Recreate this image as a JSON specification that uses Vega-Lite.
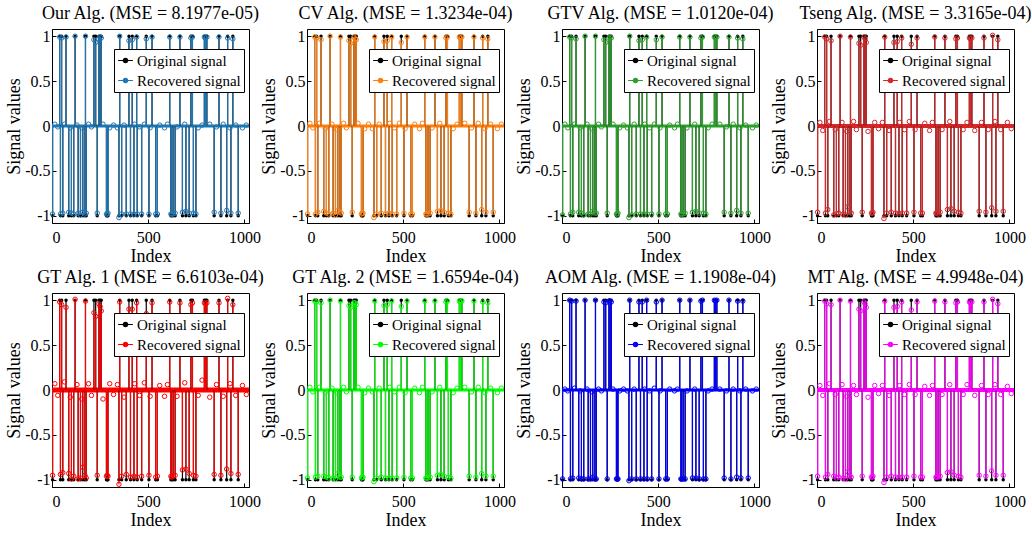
{
"$schema": "https://vega.github.io/schema/vega-lite/v6.json",
"background": "white",
"padding": {"left": 5, "top": 4, "right": 2, "bottom": 2},
"bounds": "flush",
"datasets": {
"sig": [
{"i":3,"o":-1,"r1":-0.98,"r2":-0.98,"r3":-0.99,"r4":-0.96,"r5":-0.95,"r6":-0.98,"r7":-0.99,"r8":-0.96},
{"i":40,"o":1,"r1":0.99,"r2":0.99,"r3":0.99,"r4":0.99,"r5":0.98,"r6":0.99,"r7":1,"r8":0.99},
{"i":44,"o":-1,"r1":-0.98,"r2":-0.98,"r3":-0.98,"r4":-0.97,"r5":-0.94,"r6":-0.97,"r7":-0.99,"r8":-0.97},
{"i":50,"o":1,"r1":0.98,"r2":0.98,"r3":0.98,"r4":0.97,"r5":0.95,"r6":0.98,"r7":0.99,"r8":0.96},
{"i":56,"o":-1,"r1":-0.97,"r2":-0.96,"r3":-0.96,"r4":-0.93,"r5":-0.92,"r6":-0.96,"r7":-0.98,"r8":-0.94},
{"i":73,"o":1,"r1":0.99,"r2":0.96,"r3":0.97,"r4":0.95,"r5":0.92,"r6":0.97,"r7":0.99,"r8":0.95},
{"i":87,"o":-1,"r1":-0.96,"r2":-0.95,"r3":-0.96,"r4":-0.99,"r5":-0.93,"r6":-0.96,"r7":-0.98,"r8":-0.96},
{"i":101,"o":-1,"r1":-0.97,"r2":-0.97,"r3":-0.97,"r4":-0.98,"r5":-0.99,"r6":-0.97,"r7":-0.99,"r8":-0.98},
{"i":113,"o":-1,"r1":-0.98,"r2":-0.98,"r3":-0.99,"r4":-0.97,"r5":-0.96,"r6":-0.98,"r7":-0.99,"r8":-0.97},
{"i":120,"o":1,"r1":1,"r2":1,"r3":1,"r4":1,"r5":1.01,"r6":1,"r7":1,"r8":1},
{"i":136,"o":-1,"r1":-0.97,"r2":-0.97,"r3":-0.98,"r4":-0.98,"r5":-0.99,"r6":-0.98,"r7":-0.99,"r8":-0.98},
{"i":148,"o":-1,"r1":-0.99,"r2":-0.99,"r3":-0.98,"r4":-0.99,"r5":-0.98,"r6":-0.99,"r7":-0.99,"r8":-0.99},
{"i":160,"o":-1,"r1":-0.96,"r2":-0.94,"r3":-0.95,"r4":-0.9,"r5":-0.86,"r6":-0.93,"r7":-0.97,"r8":-0.91},
{"i":171,"o":-1,"r1":-0.98,"r2":-0.96,"r3":-0.97,"r4":-0.96,"r5":-0.95,"r6":-0.97,"r7":-0.99,"r8":-0.96},
{"i":174,"o":1,"r1":1,"r2":0.99,"r3":1,"r4":0.99,"r5":0.99,"r6":0.99,"r7":1,"r8":0.99},
{"i":178,"o":-1,"r1":-0.97,"r2":-0.97,"r3":-0.97,"r4":-0.97,"r5":-0.98,"r6":-0.97,"r7":-0.99,"r8":-0.97},
{"i":218,"o":1,"r1":0.96,"r2":0.95,"r3":0.96,"r4":0.92,"r5":0.86,"r6":0.94,"r7":0.98,"r8":0.9},
{"i":227,"o":1,"r1":0.93,"r2":0.92,"r3":0.93,"r4":0.9,"r5":0.82,"r6":0.92,"r7":0.97,"r8":0.88},
{"i":235,"o":-1,"r1":-0.97,"r2":-0.96,"r3":-0.97,"r4":-0.96,"r5":-0.95,"r6":-0.97,"r7":-0.99,"r8":-0.96},
{"i":244,"o":1,"r1":0.97,"r2":0.99,"r3":0.98,"r4":0.99,"r5":0.96,"r6":0.97,"r7":0.99,"r8":0.98},
{"i":250,"o":1,"r1":0.99,"r2":0.97,"r3":0.99,"r4":0.97,"r5":0.93,"r6":0.97,"r7":0.99,"r8":0.96},
{"i":256,"o":1,"r1":0.98,"r2":0.96,"r3":0.98,"r4":0.93,"r5":0.88,"r6":0.95,"r7":0.98,"r8":0.92},
{"i":283,"o":-1,"r1":-0.98,"r2":-0.98,"r3":-0.98,"r4":-0.97,"r5":-0.96,"r6":-0.98,"r7":-0.99,"r8":-0.97},
{"i":287,"o":-1,"r1":-0.98,"r2":-0.97,"r3":-0.98,"r4":-0.97,"r5":-0.95,"r6":-0.97,"r7":-0.99,"r8":-0.97},
{"i":291,"o":-1,"r1":-0.97,"r2":-0.97,"r3":-0.97,"r4":-0.96,"r5":-0.96,"r6":-0.97,"r7":-0.99,"r8":-0.96},
{"i":348,"o":-1,"r1":-1.02,"r2":-1.02,"r3":-1.02,"r4":-1.03,"r5":-1.05,"r6":-1.02,"r7":-1.01,"r8":-1.03},
{"i":352,"o":1,"r1":1,"r2":0.99,"r3":1,"r4":0.99,"r5":0.98,"r6":0.99,"r7":1,"r8":0.99},
{"i":362,"o":-1,"r1":-0.98,"r2":-0.98,"r3":-0.99,"r4":-0.97,"r5":-0.96,"r6":-0.98,"r7":-0.99,"r8":-0.97},
{"i":386,"o":-1,"r1":-0.98,"r2":-0.97,"r3":-0.98,"r4":-0.96,"r5":-0.94,"r6":-0.97,"r7":-0.99,"r8":-0.96},
{"i":400,"o":1,"r1":0.95,"r2":0.94,"r3":0.95,"r4":0.93,"r5":0.9,"r6":0.94,"r7":0.98,"r8":0.92},
{"i":408,"o":-1,"r1":-0.98,"r2":-0.98,"r3":-0.98,"r4":-0.97,"r5":-0.97,"r6":-0.98,"r7":-0.99,"r8":-0.97},
{"i":417,"o":1,"r1":0.96,"r2":0.95,"r3":0.96,"r4":0.94,"r5":0.9,"r6":0.95,"r7":0.98,"r8":0.93},
{"i":426,"o":-1,"r1":-0.98,"r2":-0.97,"r3":-0.98,"r4":-0.97,"r5":-0.96,"r6":-0.98,"r7":-0.99,"r8":-0.97},
{"i":440,"o":1,"r1":0.99,"r2":0.99,"r3":0.99,"r4":0.98,"r5":0.97,"r6":0.99,"r7":1,"r8":0.98},
{"i":443,"o":-1,"r1":-0.98,"r2":-0.98,"r3":-0.98,"r4":-0.97,"r5":-0.97,"r6":-0.98,"r7":-0.99,"r8":-0.97},
{"i":466,"o":-1,"r1":-0.98,"r2":-0.98,"r3":-0.98,"r4":-0.97,"r5":-0.96,"r6":-0.98,"r7":-0.99,"r8":-0.97},
{"i":490,"o":1,"r1":0.97,"r2":0.93,"r3":0.96,"r4":0.91,"r5":0.85,"r6":0.93,"r7":0.98,"r8":0.89},
{"i":504,"o":-1,"r1":-0.98,"r2":-0.97,"r3":-0.98,"r4":-0.96,"r5":-0.95,"r6":-0.97,"r7":-0.99,"r8":-0.96},
{"i":520,"o":1,"r1":0.99,"r2":0.99,"r3":0.99,"r4":0.98,"r5":0.97,"r6":0.99,"r7":1,"r8":0.98},
{"i":539,"o":-1,"r1":-0.98,"r2":-0.98,"r3":-0.98,"r4":-0.97,"r5":-0.97,"r6":-0.98,"r7":-0.99,"r8":-0.97},
{"i":548,"o":-1,"r1":-0.98,"r2":-0.98,"r3":-0.98,"r4":-0.97,"r5":-0.96,"r6":-0.98,"r7":-0.99,"r8":-0.97},
{"i":612,"o":1,"r1":0.99,"r2":0.99,"r3":0.99,"r4":0.99,"r5":0.98,"r6":0.99,"r7":1,"r8":0.99},
{"i":618,"o":-1,"r1":-0.98,"r2":-0.98,"r3":-0.98,"r4":-0.97,"r5":-0.96,"r6":-0.98,"r7":-0.99,"r8":-0.97},
{"i":622,"o":-1,"r1":-0.98,"r2":-0.98,"r3":-0.98,"r4":-0.97,"r5":-0.97,"r6":-0.98,"r7":-0.99,"r8":-0.97},
{"i":630,"o":-1,"r1":-0.98,"r2":-0.98,"r3":-0.98,"r4":-0.98,"r5":-0.96,"r6":-0.98,"r7":-0.99,"r8":-0.97},
{"i":640,"o":-1,"r1":-0.97,"r2":-0.97,"r3":-0.97,"r4":-0.96,"r5":-0.95,"r6":-0.97,"r7":-0.99,"r8":-0.96},
{"i":665,"o":1,"r1":0.99,"r2":0.99,"r3":0.99,"r4":0.98,"r5":0.97,"r6":0.99,"r7":1,"r8":0.98},
{"i":678,"o":-1,"r1":-0.96,"r2":-0.95,"r3":-0.96,"r4":-0.93,"r5":-0.89,"r6":-0.95,"r7":-0.98,"r8":-0.92},
{"i":696,"o":-1,"r1":-0.95,"r2":-0.94,"r3":-0.95,"r4":-0.92,"r5":-0.88,"r6":-0.94,"r7":-0.98,"r8":-0.91},
{"i":713,"o":-1,"r1":-0.97,"r2":-0.96,"r3":-0.97,"r4":-0.95,"r5":-0.93,"r6":-0.96,"r7":-0.99,"r8":-0.95},
{"i":722,"o":1,"r1":0.98,"r2":0.98,"r3":0.98,"r4":0.97,"r5":0.95,"r6":0.98,"r7":0.99,"r8":0.97},
{"i":730,"o":1,"r1":0.99,"r2":0.99,"r3":0.99,"r4":0.98,"r5":0.97,"r6":0.99,"r7":1,"r8":0.98},
{"i":735,"o":-1,"r1":-0.97,"r2":-0.97,"r3":-0.97,"r4":-0.96,"r5":-0.95,"r6":-0.97,"r7":-0.99,"r8":-0.96},
{"i":748,"o":-1,"r1":-0.98,"r2":-0.98,"r3":-0.98,"r4":-0.97,"r5":-0.96,"r6":-0.98,"r7":-0.99,"r8":-0.97},
{"i":792,"o":1,"r1":0.99,"r2":0.99,"r3":0.99,"r4":0.98,"r5":0.97,"r6":0.99,"r7":1,"r8":0.98},
{"i":798,"o":1,"r1":0.98,"r2":0.98,"r3":0.98,"r4":0.97,"r5":0.96,"r6":0.98,"r7":0.99,"r8":0.97},
{"i":805,"o":1,"r1":0.99,"r2":0.99,"r3":0.99,"r4":0.98,"r5":0.97,"r6":0.99,"r7":1,"r8":0.98},
{"i":843,"o":-1,"r1":-0.96,"r2":-0.96,"r3":-0.96,"r4":-0.95,"r5":-0.94,"r6":-0.96,"r7":-0.98,"r8":-0.95},
{"i":868,"o":1,"r1":0.99,"r2":0.99,"r3":0.99,"r4":0.98,"r5":0.97,"r6":0.99,"r7":1,"r8":0.98},
{"i":878,"o":-1,"r1":-0.97,"r2":-0.97,"r3":-0.97,"r4":-0.96,"r5":-0.95,"r6":-0.97,"r7":-0.99,"r8":-0.96},
{"i":908,"o":-1,"r1":-0.94,"r2":-0.93,"r3":-0.94,"r4":-0.91,"r5":-0.88,"r6":-0.93,"r7":-0.97,"r8":-0.9},
{"i":913,"o":1,"r1":0.98,"r2":0.98,"r3":0.98,"r4":1.01,"r5":1.02,"r6":0.98,"r7":0.99,"r8":1.01},
{"i":930,"o":-1,"r1":-0.97,"r2":-0.96,"r3":-0.97,"r4":-0.95,"r5":-0.93,"r6":-0.96,"r7":-0.98,"r8":-0.95},
{"i":940,"o":1,"r1":0.97,"r2":0.97,"r3":0.97,"r4":0.96,"r5":0.95,"r6":0.97,"r7":0.99,"r8":0.96},
{"i":968,"o":-1,"r1":-0.97,"r2":-0.96,"r3":-0.97,"r4":-0.95,"r5":-0.94,"r6":-0.96,"r7":-0.98,"r8":-0.95}
],
"noise": [
{"i":15,"n1":0.02,"n2":0.03,"n3":0.02,"n4":0.04,"n5":0.07,"n6":0.03,"n7":0.01,"n8":0.05},
{"i":30,"n1":-0.01,"n2":-0.02,"n3":-0.02,"n4":-0.05,"n5":-0.06,"n6":-0.02,"n7":-0.01,"n8":-0.06},
{"i":65,"n1":0.02,"n2":0.03,"n3":0.02,"n4":0.05,"n5":0.09,"n6":0.03,"n7":0.02,"n8":0.07},
{"i":95,"n1":-0.02,"n2":-0.03,"n3":-0.02,"n4":-0.04,"n5":-0.08,"n6":-0.03,"n7":-0.01,"n8":-0.05},
{"i":130,"n1":0.01,"n2":0.02,"n3":0.02,"n4":0.04,"n5":0.06,"n6":0.02,"n7":0.01,"n8":0.06},
{"i":155,"n1":-0.02,"n2":-0.04,"n3":-0.03,"n4":-0.06,"n5":-0.1,"n6":-0.03,"n7":-0.02,"n8":-0.07},
{"i":190,"n1":0.02,"n2":0.03,"n3":0.02,"n4":0.05,"n5":0.07,"n6":0.03,"n7":0.01,"n8":0.05},
{"i":205,"n1":-0.01,"n2":-0.02,"n3":-0.01,"n4":-0.04,"n5":-0.06,"n6":-0.02,"n7":-0.01,"n8":-0.05},
{"i":265,"n1":0.02,"n2":0.03,"n3":0.02,"n4":-0.06,"n5":-0.1,"n6":0.03,"n7":0.01,"n8":-0.08},
{"i":300,"n1":-0.02,"n2":-0.03,"n3":-0.02,"n4":0.04,"n5":0.07,"n6":-0.03,"n7":-0.01,"n8":0.05},
{"i":320,"n1":0.01,"n2":0.02,"n3":0.01,"n4":-0.03,"n5":-0.05,"n6":0.02,"n7":0.01,"n8":-0.04},
{"i":340,"n1":-0.02,"n2":-0.03,"n3":-0.02,"n4":0.04,"n5":0.06,"n6":-0.02,"n7":-0.01,"n8":0.05},
{"i":375,"n1":0.01,"n2":0.02,"n3":0.02,"n4":-0.05,"n5":-0.08,"n6":0.02,"n7":0.01,"n8":-0.06},
{"i":430,"n1":0.02,"n2":0.03,"n3":0.02,"n4":0.04,"n5":0.07,"n6":0.03,"n7":0.01,"n8":0.05},
{"i":455,"n1":-0.01,"n2":-0.02,"n3":-0.02,"n4":-0.04,"n5":-0.06,"n6":-0.02,"n7":-0.01,"n8":-0.05},
{"i":480,"n1":0.02,"n2":0.03,"n3":0.02,"n4":0.05,"n5":0.08,"n6":0.03,"n7":0.02,"n8":0.06},
{"i":510,"n1":-0.02,"n2":-0.03,"n3":-0.02,"n4":-0.04,"n5":-0.07,"n6":-0.03,"n7":-0.01,"n8":-0.05},
{"i":560,"n1":0.01,"n2":0.02,"n3":0.01,"n4":0.03,"n5":0.05,"n6":0.02,"n7":0.01,"n8":0.04},
{"i":585,"n1":-0.02,"n2":-0.03,"n3":-0.02,"n4":-0.05,"n5":-0.07,"n6":-0.03,"n7":-0.01,"n8":-0.06},
{"i":600,"n1":0.02,"n2":0.03,"n3":0.02,"n4":0.04,"n5":0.06,"n6":0.03,"n7":0.01,"n8":0.05},
{"i":650,"n1":-0.01,"n2":-0.02,"n3":-0.02,"n4":-0.04,"n5":-0.07,"n6":-0.02,"n7":-0.01,"n8":-0.05},
{"i":690,"n1":0.02,"n2":0.03,"n3":0.02,"n4":0.05,"n5":0.08,"n6":0.03,"n7":0.01,"n8":0.06},
{"i":760,"n1":-0.02,"n2":-0.03,"n3":-0.02,"n4":-0.04,"n5":-0.06,"n6":-0.03,"n7":-0.01,"n8":-0.05},
{"i":780,"n1":0.01,"n2":0.02,"n3":0.02,"n4":0.04,"n5":0.11,"n6":0.02,"n7":0.01,"n8":0.06},
{"i":820,"n1":0.02,"n2":0.03,"n3":0.02,"n4":-0.05,"n5":-0.08,"n6":0.03,"n7":0.01,"n8":-0.06},
{"i":855,"n1":-0.01,"n2":-0.02,"n3":-0.01,"n4":0.04,"n5":0.06,"n6":-0.02,"n7":-0.01,"n8":0.05},
{"i":890,"n1":0.02,"n2":0.03,"n3":0.02,"n4":-0.04,"n5":-0.07,"n6":0.03,"n7":0.01,"n8":-0.05},
{"i":925,"n1":-0.02,"n2":-0.03,"n3":-0.02,"n4":0.05,"n5":0.07,"n6":-0.03,"n7":-0.01,"n8":0.06},
{"i":955,"n1":0.01,"n2":0.02,"n3":0.01,"n4":-0.04,"n5":-0.06,"n6":0.02,"n7":0.01,"n8":-0.05},
{"i":990,"n1":-0.02,"n2":-0.03,"n3":-0.02,"n4":0.04,"n5":0.05,"n6":-0.03,"n7":-0.01,"n8":0.04},
{"i":1010,"n1":0.01,"n2":0.02,"n3":0.01,"n4":-0.03,"n5":-0.05,"n6":0.02,"n7":0.01,"n8":-0.04}
]
},
"columns": 4,
"spacing": {"row": 70, "column": 58},
"resolve": {"scale": {"color": "independent", "x": "independent", "y": "independent"}, "legend": {"color": "independent"}},
"concat": [
{"title": "Our Alg. (MSE = 8.1977e-05)", "width": 197, "height": 194, "layer": [
 {"data": {"values": [{}]}, "mark": {"type": "rule", "color": "#1f77b4", "strokeWidth": 3}, "encoding": {"y": {"datum": 0, "type": "quantitative", "scale": {"domain": [-1.08, 1.08], "nice": false, "zero": false}, "title": "Signal values", "axis": {"values": [-1, -0.5, 0, 0.5, 1], "labelExpr": "datum.value < 0 ? '-' + abs(datum.value) : '' + datum.value"}}}},
 {"data": {"name": "sig"}, "mark": {"type": "rule", "color": "black", "strokeWidth": 1.2}, "encoding": {"x": {"field": "i", "type": "quantitative", "scale": {"domain": [0, 1024], "nice": false, "zero": false}, "title": "Index", "axis": {"values": [0, 500, 1000], "format": "d"}}, "y": {"field": "o", "type": "quantitative", "title": "Signal values"}, "y2": {"datum": 0}}},
 {"data": {"name": "sig"}, "mark": {"type": "point", "filled": true, "size": 12, "opacity": 1}, "encoding": {"x": {"field": "i", "type": "quantitative", "title": "Index"}, "y": {"field": "o", "type": "quantitative", "title": "Signal values"}, "color": {"datum": "Original signal", "scale": {"domain": ["Original signal", "Recovered signal"], "range": ["black", "#1f77b4"]}, "title": null}}},
 {"data": {"name": "sig"}, "mark": {"type": "rule", "color": "#1f77b4", "strokeWidth": 1.2}, "encoding": {"x": {"field": "i", "type": "quantitative", "title": "Index"}, "y": {"field": "r1", "type": "quantitative", "title": "Signal values"}, "y2": {"datum": 0}}},
 {"data": {"name": "noise"}, "mark": {"type": "point", "filled": false, "size": 20, "strokeWidth": 1, "color": "#1f77b4", "opacity": 1}, "encoding": {"x": {"field": "i", "type": "quantitative", "title": "Index"}, "y": {"field": "n1", "type": "quantitative", "title": "Signal values"}}},
 {"data": {"name": "sig"}, "mark": {"type": "point", "filled": false, "size": 20, "strokeWidth": 1, "opacity": 1}, "encoding": {"x": {"field": "i", "type": "quantitative", "title": "Index"}, "y": {"field": "r1", "type": "quantitative", "title": "Signal values"}, "color": {"datum": "Recovered signal", "scale": {"domain": ["Original signal", "Recovered signal"], "range": ["black", "#1f77b4"]}, "title": null}}}
]},
{"title": "CV Alg. (MSE = 1.3234e-04)", "width": 197, "height": 194, "layer": [
 {"data": {"values": [{}]}, "mark": {"type": "rule", "color": "#ff7f0e", "strokeWidth": 3}, "encoding": {"y": {"datum": 0, "type": "quantitative", "scale": {"domain": [-1.08, 1.08], "nice": false, "zero": false}, "title": "Signal values", "axis": {"values": [-1, -0.5, 0, 0.5, 1], "labelExpr": "datum.value < 0 ? '-' + abs(datum.value) : '' + datum.value"}}}},
 {"data": {"name": "sig"}, "mark": {"type": "rule", "color": "black", "strokeWidth": 1.2}, "encoding": {"x": {"field": "i", "type": "quantitative", "scale": {"domain": [0, 1024], "nice": false, "zero": false}, "title": "Index", "axis": {"values": [0, 500, 1000], "format": "d"}}, "y": {"field": "o", "type": "quantitative", "title": "Signal values"}, "y2": {"datum": 0}}},
 {"data": {"name": "sig"}, "mark": {"type": "point", "filled": true, "size": 12, "opacity": 1}, "encoding": {"x": {"field": "i", "type": "quantitative", "title": "Index"}, "y": {"field": "o", "type": "quantitative", "title": "Signal values"}, "color": {"datum": "Original signal", "scale": {"domain": ["Original signal", "Recovered signal"], "range": ["black", "#ff7f0e"]}, "title": null}}},
 {"data": {"name": "sig"}, "mark": {"type": "rule", "color": "#ff7f0e", "strokeWidth": 1.2}, "encoding": {"x": {"field": "i", "type": "quantitative", "title": "Index"}, "y": {"field": "r2", "type": "quantitative", "title": "Signal values"}, "y2": {"datum": 0}}},
 {"data": {"name": "noise"}, "mark": {"type": "point", "filled": false, "size": 20, "strokeWidth": 1, "color": "#ff7f0e", "opacity": 1}, "encoding": {"x": {"field": "i", "type": "quantitative", "title": "Index"}, "y": {"field": "n2", "type": "quantitative", "title": "Signal values"}}},
 {"data": {"name": "sig"}, "mark": {"type": "point", "filled": false, "size": 20, "strokeWidth": 1, "opacity": 1}, "encoding": {"x": {"field": "i", "type": "quantitative", "title": "Index"}, "y": {"field": "r2", "type": "quantitative", "title": "Signal values"}, "color": {"datum": "Recovered signal", "scale": {"domain": ["Original signal", "Recovered signal"], "range": ["black", "#ff7f0e"]}, "title": null}}}
]},
{"title": "GTV Alg. (MSE = 1.0120e-04)", "width": 197, "height": 194, "layer": [
 {"data": {"values": [{}]}, "mark": {"type": "rule", "color": "#2ca02c", "strokeWidth": 3}, "encoding": {"y": {"datum": 0, "type": "quantitative", "scale": {"domain": [-1.08, 1.08], "nice": false, "zero": false}, "title": "Signal values", "axis": {"values": [-1, -0.5, 0, 0.5, 1], "labelExpr": "datum.value < 0 ? '-' + abs(datum.value) : '' + datum.value"}}}},
 {"data": {"name": "sig"}, "mark": {"type": "rule", "color": "black", "strokeWidth": 1.2}, "encoding": {"x": {"field": "i", "type": "quantitative", "scale": {"domain": [0, 1024], "nice": false, "zero": false}, "title": "Index", "axis": {"values": [0, 500, 1000], "format": "d"}}, "y": {"field": "o", "type": "quantitative", "title": "Signal values"}, "y2": {"datum": 0}}},
 {"data": {"name": "sig"}, "mark": {"type": "point", "filled": true, "size": 12, "opacity": 1}, "encoding": {"x": {"field": "i", "type": "quantitative", "title": "Index"}, "y": {"field": "o", "type": "quantitative", "title": "Signal values"}, "color": {"datum": "Original signal", "scale": {"domain": ["Original signal", "Recovered signal"], "range": ["black", "#2ca02c"]}, "title": null}}},
 {"data": {"name": "sig"}, "mark": {"type": "rule", "color": "#2ca02c", "strokeWidth": 1.2}, "encoding": {"x": {"field": "i", "type": "quantitative", "title": "Index"}, "y": {"field": "r3", "type": "quantitative", "title": "Signal values"}, "y2": {"datum": 0}}},
 {"data": {"name": "noise"}, "mark": {"type": "point", "filled": false, "size": 20, "strokeWidth": 1, "color": "#2ca02c", "opacity": 1}, "encoding": {"x": {"field": "i", "type": "quantitative", "title": "Index"}, "y": {"field": "n3", "type": "quantitative", "title": "Signal values"}}},
 {"data": {"name": "sig"}, "mark": {"type": "point", "filled": false, "size": 20, "strokeWidth": 1, "opacity": 1}, "encoding": {"x": {"field": "i", "type": "quantitative", "title": "Index"}, "y": {"field": "r3", "type": "quantitative", "title": "Signal values"}, "color": {"datum": "Recovered signal", "scale": {"domain": ["Original signal", "Recovered signal"], "range": ["black", "#2ca02c"]}, "title": null}}}
]},
{"title": "Tseng Alg. (MSE = 3.3165e-04)", "width": 197, "height": 194, "layer": [
 {"data": {"values": [{}]}, "mark": {"type": "rule", "color": "#d62728", "strokeWidth": 4}, "encoding": {"y": {"datum": 0, "type": "quantitative", "scale": {"domain": [-1.08, 1.08], "nice": false, "zero": false}, "title": "Signal values", "axis": {"values": [-1, -0.5, 0, 0.5, 1], "labelExpr": "datum.value < 0 ? '-' + abs(datum.value) : '' + datum.value"}}}},
 {"data": {"name": "sig"}, "mark": {"type": "rule", "color": "black", "strokeWidth": 1.2}, "encoding": {"x": {"field": "i", "type": "quantitative", "scale": {"domain": [0, 1024], "nice": false, "zero": false}, "title": "Index", "axis": {"values": [0, 500, 1000], "format": "d"}}, "y": {"field": "o", "type": "quantitative", "title": "Signal values"}, "y2": {"datum": 0}}},
 {"data": {"name": "sig"}, "mark": {"type": "point", "filled": true, "size": 12, "opacity": 1}, "encoding": {"x": {"field": "i", "type": "quantitative", "title": "Index"}, "y": {"field": "o", "type": "quantitative", "title": "Signal values"}, "color": {"datum": "Original signal", "scale": {"domain": ["Original signal", "Recovered signal"], "range": ["black", "#d62728"]}, "title": null}}},
 {"data": {"name": "sig"}, "mark": {"type": "rule", "color": "#d62728", "strokeWidth": 1.2}, "encoding": {"x": {"field": "i", "type": "quantitative", "title": "Index"}, "y": {"field": "r4", "type": "quantitative", "title": "Signal values"}, "y2": {"datum": 0}}},
 {"data": {"name": "noise"}, "mark": {"type": "point", "filled": false, "size": 20, "strokeWidth": 1, "color": "#d62728", "opacity": 1}, "encoding": {"x": {"field": "i", "type": "quantitative", "title": "Index"}, "y": {"field": "n4", "type": "quantitative", "title": "Signal values"}}},
 {"data": {"name": "sig"}, "mark": {"type": "point", "filled": false, "size": 20, "strokeWidth": 1, "opacity": 1}, "encoding": {"x": {"field": "i", "type": "quantitative", "title": "Index"}, "y": {"field": "r4", "type": "quantitative", "title": "Signal values"}, "color": {"datum": "Recovered signal", "scale": {"domain": ["Original signal", "Recovered signal"], "range": ["black", "#d62728"]}, "title": null}}}
]},
{"title": "GT Alg. 1 (MSE = 6.6103e-04)", "width": 197, "height": 194, "layer": [
 {"data": {"values": [{}]}, "mark": {"type": "rule", "color": "#ff0000", "strokeWidth": 5}, "encoding": {"y": {"datum": 0, "type": "quantitative", "scale": {"domain": [-1.08, 1.08], "nice": false, "zero": false}, "title": "Signal values", "axis": {"values": [-1, -0.5, 0, 0.5, 1], "labelExpr": "datum.value < 0 ? '-' + abs(datum.value) : '' + datum.value"}}}},
 {"data": {"name": "sig"}, "mark": {"type": "rule", "color": "black", "strokeWidth": 1.2}, "encoding": {"x": {"field": "i", "type": "quantitative", "scale": {"domain": [0, 1024], "nice": false, "zero": false}, "title": "Index", "axis": {"values": [0, 500, 1000], "format": "d"}}, "y": {"field": "o", "type": "quantitative", "title": "Signal values"}, "y2": {"datum": 0}}},
 {"data": {"name": "sig"}, "mark": {"type": "point", "filled": true, "size": 12, "opacity": 1}, "encoding": {"x": {"field": "i", "type": "quantitative", "title": "Index"}, "y": {"field": "o", "type": "quantitative", "title": "Signal values"}, "color": {"datum": "Original signal", "scale": {"domain": ["Original signal", "Recovered signal"], "range": ["black", "#ff0000"]}, "title": null}}},
 {"data": {"name": "sig"}, "mark": {"type": "rule", "color": "#ff0000", "strokeWidth": 1.2}, "encoding": {"x": {"field": "i", "type": "quantitative", "title": "Index"}, "y": {"field": "r5", "type": "quantitative", "title": "Signal values"}, "y2": {"datum": 0}}},
 {"data": {"name": "noise"}, "mark": {"type": "point", "filled": false, "size": 20, "strokeWidth": 1, "color": "#ff0000", "opacity": 1}, "encoding": {"x": {"field": "i", "type": "quantitative", "title": "Index"}, "y": {"field": "n5", "type": "quantitative", "title": "Signal values"}}},
 {"data": {"name": "sig"}, "mark": {"type": "point", "filled": false, "size": 20, "strokeWidth": 1, "opacity": 1}, "encoding": {"x": {"field": "i", "type": "quantitative", "title": "Index"}, "y": {"field": "r5", "type": "quantitative", "title": "Signal values"}, "color": {"datum": "Recovered signal", "scale": {"domain": ["Original signal", "Recovered signal"], "range": ["black", "#ff0000"]}, "title": null}}}
]},
{"title": "GT Alg. 2 (MSE = 1.6594e-04)", "width": 197, "height": 194, "layer": [
 {"data": {"values": [{}]}, "mark": {"type": "rule", "color": "#00ff00", "strokeWidth": 3}, "encoding": {"y": {"datum": 0, "type": "quantitative", "scale": {"domain": [-1.08, 1.08], "nice": false, "zero": false}, "title": "Signal values", "axis": {"values": [-1, -0.5, 0, 0.5, 1], "labelExpr": "datum.value < 0 ? '-' + abs(datum.value) : '' + datum.value"}}}},
 {"data": {"name": "sig"}, "mark": {"type": "rule", "color": "black", "strokeWidth": 1.2}, "encoding": {"x": {"field": "i", "type": "quantitative", "scale": {"domain": [0, 1024], "nice": false, "zero": false}, "title": "Index", "axis": {"values": [0, 500, 1000], "format": "d"}}, "y": {"field": "o", "type": "quantitative", "title": "Signal values"}, "y2": {"datum": 0}}},
 {"data": {"name": "sig"}, "mark": {"type": "point", "filled": true, "size": 12, "opacity": 1}, "encoding": {"x": {"field": "i", "type": "quantitative", "title": "Index"}, "y": {"field": "o", "type": "quantitative", "title": "Signal values"}, "color": {"datum": "Original signal", "scale": {"domain": ["Original signal", "Recovered signal"], "range": ["black", "#00ff00"]}, "title": null}}},
 {"data": {"name": "sig"}, "mark": {"type": "rule", "color": "#00ff00", "strokeWidth": 1.2}, "encoding": {"x": {"field": "i", "type": "quantitative", "title": "Index"}, "y": {"field": "r6", "type": "quantitative", "title": "Signal values"}, "y2": {"datum": 0}}},
 {"data": {"name": "noise"}, "mark": {"type": "point", "filled": false, "size": 20, "strokeWidth": 1, "color": "#00ff00", "opacity": 1}, "encoding": {"x": {"field": "i", "type": "quantitative", "title": "Index"}, "y": {"field": "n6", "type": "quantitative", "title": "Signal values"}}},
 {"data": {"name": "sig"}, "mark": {"type": "point", "filled": false, "size": 20, "strokeWidth": 1, "opacity": 1}, "encoding": {"x": {"field": "i", "type": "quantitative", "title": "Index"}, "y": {"field": "r6", "type": "quantitative", "title": "Signal values"}, "color": {"datum": "Recovered signal", "scale": {"domain": ["Original signal", "Recovered signal"], "range": ["black", "#00ff00"]}, "title": null}}}
]},
{"title": "AOM Alg. (MSE = 1.1908e-04)", "width": 197, "height": 194, "layer": [
 {"data": {"values": [{}]}, "mark": {"type": "rule", "color": "#0000ff", "strokeWidth": 3}, "encoding": {"y": {"datum": 0, "type": "quantitative", "scale": {"domain": [-1.08, 1.08], "nice": false, "zero": false}, "title": "Signal values", "axis": {"values": [-1, -0.5, 0, 0.5, 1], "labelExpr": "datum.value < 0 ? '-' + abs(datum.value) : '' + datum.value"}}}},
 {"data": {"name": "sig"}, "mark": {"type": "rule", "color": "black", "strokeWidth": 1.2}, "encoding": {"x": {"field": "i", "type": "quantitative", "scale": {"domain": [0, 1024], "nice": false, "zero": false}, "title": "Index", "axis": {"values": [0, 500, 1000], "format": "d"}}, "y": {"field": "o", "type": "quantitative", "title": "Signal values"}, "y2": {"datum": 0}}},
 {"data": {"name": "sig"}, "mark": {"type": "point", "filled": true, "size": 12, "opacity": 1}, "encoding": {"x": {"field": "i", "type": "quantitative", "title": "Index"}, "y": {"field": "o", "type": "quantitative", "title": "Signal values"}, "color": {"datum": "Original signal", "scale": {"domain": ["Original signal", "Recovered signal"], "range": ["black", "#0000ff"]}, "title": null}}},
 {"data": {"name": "sig"}, "mark": {"type": "rule", "color": "#0000ff", "strokeWidth": 1.2}, "encoding": {"x": {"field": "i", "type": "quantitative", "title": "Index"}, "y": {"field": "r7", "type": "quantitative", "title": "Signal values"}, "y2": {"datum": 0}}},
 {"data": {"name": "noise"}, "mark": {"type": "point", "filled": false, "size": 20, "strokeWidth": 1, "color": "#0000ff", "opacity": 1}, "encoding": {"x": {"field": "i", "type": "quantitative", "title": "Index"}, "y": {"field": "n7", "type": "quantitative", "title": "Signal values"}}},
 {"data": {"name": "sig"}, "mark": {"type": "point", "filled": false, "size": 20, "strokeWidth": 1, "opacity": 1}, "encoding": {"x": {"field": "i", "type": "quantitative", "title": "Index"}, "y": {"field": "r7", "type": "quantitative", "title": "Signal values"}, "color": {"datum": "Recovered signal", "scale": {"domain": ["Original signal", "Recovered signal"], "range": ["black", "#0000ff"]}, "title": null}}}
]},
{"title": "MT Alg. (MSE = 4.9948e-04)", "width": 197, "height": 194, "layer": [
 {"data": {"values": [{}]}, "mark": {"type": "rule", "color": "#ff00ff", "strokeWidth": 4}, "encoding": {"y": {"datum": 0, "type": "quantitative", "scale": {"domain": [-1.08, 1.08], "nice": false, "zero": false}, "title": "Signal values", "axis": {"values": [-1, -0.5, 0, 0.5, 1], "labelExpr": "datum.value < 0 ? '-' + abs(datum.value) : '' + datum.value"}}}},
 {"data": {"name": "sig"}, "mark": {"type": "rule", "color": "black", "strokeWidth": 1.2}, "encoding": {"x": {"field": "i", "type": "quantitative", "scale": {"domain": [0, 1024], "nice": false, "zero": false}, "title": "Index", "axis": {"values": [0, 500, 1000], "format": "d"}}, "y": {"field": "o", "type": "quantitative", "title": "Signal values"}, "y2": {"datum": 0}}},
 {"data": {"name": "sig"}, "mark": {"type": "point", "filled": true, "size": 12, "opacity": 1}, "encoding": {"x": {"field": "i", "type": "quantitative", "title": "Index"}, "y": {"field": "o", "type": "quantitative", "title": "Signal values"}, "color": {"datum": "Original signal", "scale": {"domain": ["Original signal", "Recovered signal"], "range": ["black", "#ff00ff"]}, "title": null}}},
 {"data": {"name": "sig"}, "mark": {"type": "rule", "color": "#ff00ff", "strokeWidth": 1.2}, "encoding": {"x": {"field": "i", "type": "quantitative", "title": "Index"}, "y": {"field": "r8", "type": "quantitative", "title": "Signal values"}, "y2": {"datum": 0}}},
 {"data": {"name": "noise"}, "mark": {"type": "point", "filled": false, "size": 20, "strokeWidth": 1, "color": "#ff00ff", "opacity": 1}, "encoding": {"x": {"field": "i", "type": "quantitative", "title": "Index"}, "y": {"field": "n8", "type": "quantitative", "title": "Signal values"}}},
 {"data": {"name": "sig"}, "mark": {"type": "point", "filled": false, "size": 20, "strokeWidth": 1, "opacity": 1}, "encoding": {"x": {"field": "i", "type": "quantitative", "title": "Index"}, "y": {"field": "r8", "type": "quantitative", "title": "Signal values"}, "color": {"datum": "Recovered signal", "scale": {"domain": ["Original signal", "Recovered signal"], "range": ["black", "#ff00ff"]}, "title": null}}}
]}
],
"config": {
 "view": {"stroke": "black", "strokeWidth": 1},
 "font": "Liberation Serif",
 "axis": {"grid": false, "labelFont": "Liberation Serif", "labelFontSize": 16, "titleFont": "Liberation Serif", "titleFontSize": 18, "titleFontWeight": "normal", "labelColor": "black", "titleColor": "black", "domainColor": "black", "tickColor": "black", "tickSize": -4, "labelPadding": 6},
 "axisY": {"titlePadding": 1},
 "axisX": {"titlePadding": 2, "labelPadding": 10},
 "title": {"font": "Liberation Serif", "fontSize": 18, "fontWeight": "normal", "color": "black", "offset": 5},
 "legend": {"orient": "none", "legendX": 62, "legendY": 20, "strokeColor": "black", "fillColor": "white", "padding": 3, "labelFont": "Liberation Serif", "labelFontSize": 15, "labelColor": "black", "rowPadding": 3, "symbolType": "M-1,0H1M0.3,0A0.3,0.3,0,1,1,-0.3,0A0.3,0.3,0,1,1,0.3,0", "symbolSize": 220, "symbolStrokeWidth": 1.2, "symbolFillColor": "white", "labelLimit": 0, "labelOffset": 3}
}
}
